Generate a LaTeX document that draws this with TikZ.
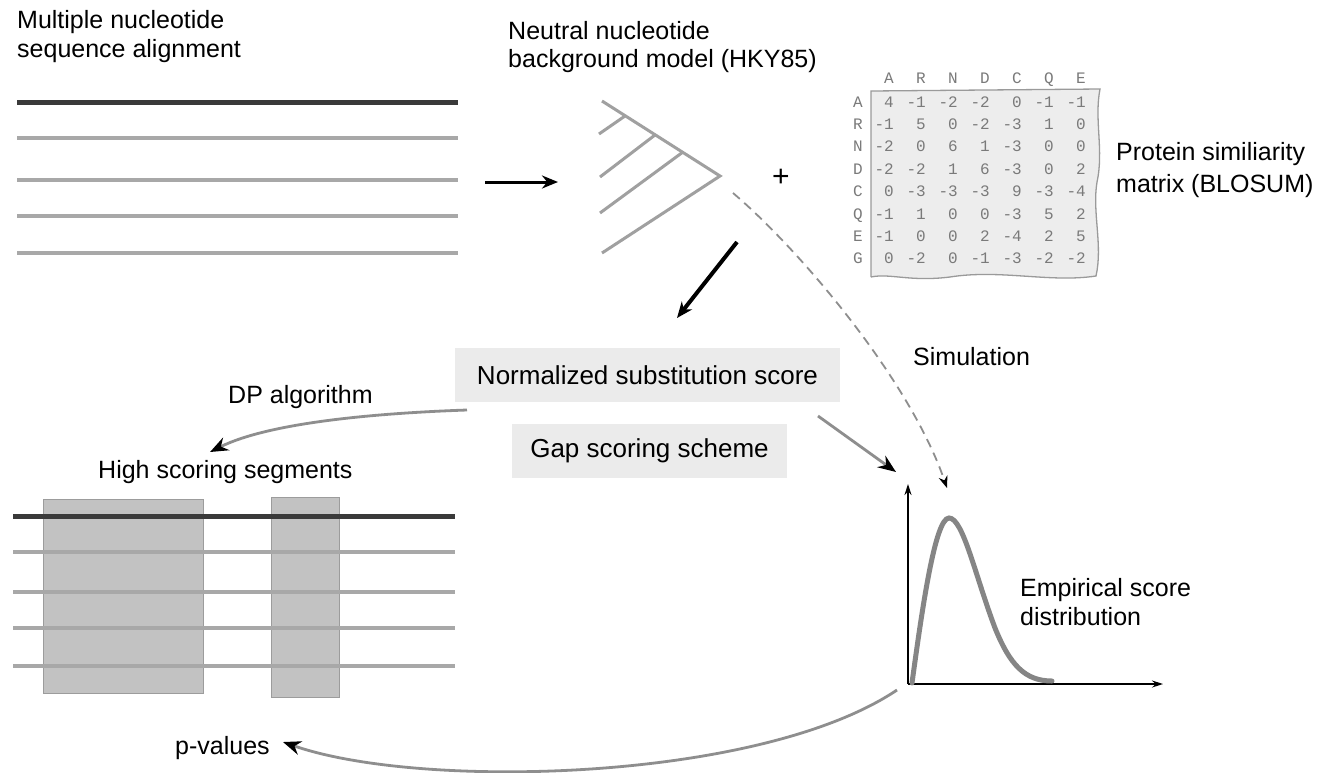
\documentclass[tikz,border=0pt]{standalone}
\usepackage{fontspec}
\setmainfont{Liberation Sans}
\newfontfamily\matfont{Liberation Mono}
\usetikzlibrary{arrows.meta}
\definecolor{seqgray}{HTML}{A8A8A8}
\definecolor{seqdark}{HTML}{3A3A3A}
\definecolor{treegray}{HTML}{A0A0A0}
\definecolor{boxgray}{HTML}{EBEBEB}
\definecolor{matfill}{HTML}{EDEDED}
\definecolor{matline}{HTML}{9A9A9A}
\definecolor{mattext}{HTML}{7A7A7A}
\definecolor{seggray}{HTML}{C2C2C2}
\definecolor{segline}{HTML}{9C9C9C}
\definecolor{curvegray}{HTML}{858585}
\definecolor{arrgray}{HTML}{8E8E8E}
\tikzset{
  lbl/.style={anchor=base west,inner sep=0pt,font=\fontsize{25}{29}\selectfont,align=left},
  scorebox/.style={fill=boxgray,inner sep=0pt,font=\fontsize{26}{30}\selectfont},
  seqline/.style={seqgray,line width=4pt},
  darkline/.style={seqdark,line width=5pt},
  treeline/.style={treegray,line width=3pt},
  mnum/.style={anchor=base east,inner sep=0pt,font=\matfont\fontsize{16}{18}\selectfont,text=mattext},
  mlab/.style={anchor=base,inner sep=0pt,font=\matfont\fontsize{16}{18}\selectfont,text=mattext},
  blkarrow/.style={-{Stealth[length=16pt,width=13pt]},black},
  grayarrow/.style={arrgray,line width=2.8pt,-{Stealth[length=18pt,width=14pt,color=black]}},
  simarrow/.style={arrgray,line width=1.8pt,dash pattern=on 9pt off 6pt,-{Stealth[length=12pt,width=9pt,color=black]}},
  axisarrow/.style={black,line width=1.3pt,-{Stealth[length=11pt,width=7pt]}},
  segbox/.style={fill=seggray,draw=segline,line width=1pt}
}
\begin{document}
\begin{tikzpicture}[x=1pt,y=-1pt]
\useasboundingbox (0,0) rectangle (1317,772);
\fill[white] (0,0) rectangle (1317,772);

% ---- top-left alignment ----
\node[lbl] (msa1) at (17,28) {Multiple nucleotide};
\node[lbl] (msa2) at (17,57) {sequence alignment};
\draw[darkline] (17,102) -- (458,102);
\foreach \y in {138,180,216,253} \draw[seqline] (17,\y) -- (458,\y);

% arrow alignment -> tree
\coordinate (a1s) at (485,182);
\coordinate (a1e) at (558,182);
\draw[blkarrow,line width=3pt] (a1s) -- (a1e);

% ---- tree ----
\node[lbl] (hky1) at (508,39) {Neutral nucleotide};
\node[lbl] (hky2) at (508,67) {background model (HKY85)};
\coordinate (root) at (720,176);
\draw[treeline,line join=miter] (602,101) -- (root) -- (602,253);
\draw[treeline] (625,116) -- (599,134);
\draw[treeline] (655,135) -- (600,177);
\draw[treeline] (683,152) -- (600,213);

\node[inner sep=0pt,font=\fontsize{30}{30}\selectfont] (plus) at (781,178) {+};

% ---- matrix ----
\fill[matfill] (871,91) -- (1100,89)
  .. controls (1094,120) and (1104,150) .. (1097,182)
  .. controls (1092,212) and (1103,245) .. (1096,276)
  .. controls (1050,283) and (1000,269) .. (950,277)
  .. controls (910,282) and (890,273) .. (871,277) -- cycle;
\draw[matline,line width=1.3pt] (871,277) -- (871,91) -- (1100,89)
  .. controls (1094,120) and (1104,150) .. (1097,182)
  .. controls (1092,212) and (1103,245) .. (1096,276)
  .. controls (1050,283) and (1000,269) .. (950,277)
  .. controls (910,282) and (890,273) .. (871,277);
\foreach \c [count=\j from 0] in {A,R,N,D,C,Q,E}
  \node[mlab] (h\j) at ({889+32*\j},83) {\c};
\foreach \r [count=\i from 0] in {A,R,N,D,C,Q,E,G}
  \node[mlab] (r\i) at (858,{107+22.4*\i}) {\r};
\foreach \row [count=\i from 0] in {
  {4,-1,-2,-2,0,-1,-1},
  {-1,5,0,-2,-3,1,0},
  {-2,0,6,1,-3,0,0},
  {-2,-2,1,6,-3,0,2},
  {0,-3,-3,-3,9,-3,-4},
  {-1,1,0,0,-3,5,2},
  {-1,0,0,2,-4,2,5},
  {0,-2,0,-1,-3,-2,-2}}
  \foreach \v [count=\j from 0] in \row
    \node[mnum] at ({894+32*\j},{107+22.4*\i}) {\v};
\node[lbl] (prot1) at (1116,160) {Protein similiarity};
\node[lbl] (prot2) at (1116,192) {matrix (BLOSUM)};

% ---- arrows from tree ----
\coordinate (a2s) at (737,242);
\coordinate (a2e) at (677,318);
\draw[blkarrow,line width=4pt] (a2s) -- (a2e);
\coordinate (simS) at (733,193);
\coordinate (simE) at (947,488);
\draw[simarrow] (simS) .. controls (800,250) and (910,380) .. (simE);
\node[lbl] (sim) at (913,365) {Simulation};

% ---- score boxes ----
\node[scorebox,minimum width=385pt,minimum height=54pt] (norm) at (647.5,375) {Normalized substitution score};
\node[scorebox,minimum width=275pt,minimum height=54pt] (gap) at (649.5,451) {Gap scoring scheme};

% DP arrow
\coordinate (dpS) at (467,410);
\coordinate (dpE) at (210,452);
\draw[grayarrow] (dpS) .. controls (380,413) and (270,422) .. (dpE);
\node[lbl] (dp) at (228,403) {DP algorithm};

% norm -> distribution
\coordinate (ndS) at (818,416);
\coordinate (ndE) at (896,472);
\draw[grayarrow] (ndS) -- (ndE);

% ---- high scoring segments ----
\node[lbl] (hss) at (98,478) {High scoring segments};
\draw[segbox] (43,499) rectangle (203,693);
\draw[segbox] (271,497) rectangle (339,697);
\draw[darkline] (13,516) -- (455,516);
\foreach \y in {552,592,628,666} \draw[seqline] (13,\y) -- (455,\y);

% ---- distribution ----
\coordinate (orig) at (908,684);
\coordinate (ytip) at (908,484);
\coordinate (xtip) at (1163,684);
\draw[axisarrow] (orig) -- (ytip);
\draw[axisarrow] (orig) -- (xtip);
\draw[curvegray,line width=5pt,line cap=round] (912,683)
  .. controls (922,610) and (935,518) .. (949,518)
  .. controls (963,518) and (975,575) .. (995,628)
  .. controls (1010,665) and (1025,681) .. (1052,681);
\node[lbl] (emp1) at (1020,596) {Empirical score};
\node[lbl] (emp2) at (1020,625) {distribution};

% p-values arrow
\coordinate (pvS) at (897,690);
\coordinate (pvE) at (283,742);
\draw[grayarrow] (pvS) .. controls (760,782) and (420,790) .. (pvE);
\node[lbl] (pv) at (175,754) {p-values};
\end{tikzpicture}
\end{document}
